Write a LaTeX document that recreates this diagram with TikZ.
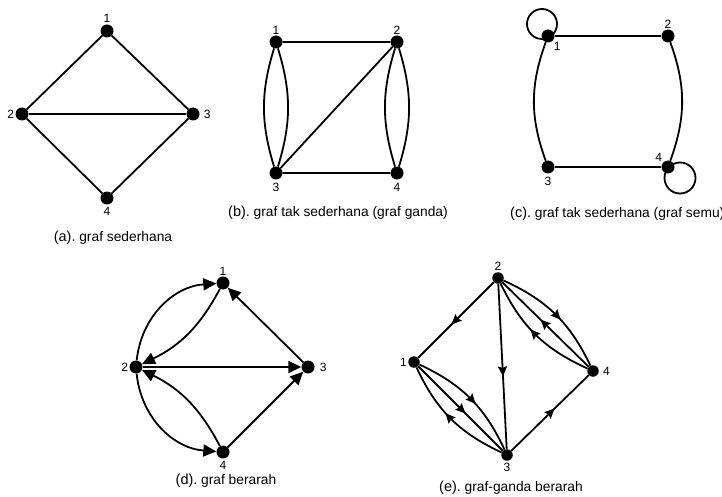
\documentclass[tikz,border=0pt]{standalone}
\usepackage{fontspec}
\setmainfont{Liberation Sans}
\usetikzlibrary{arrows.meta,decorations.markings}

\begin{document}
\begin{tikzpicture}[x=1pt,y=1pt,
  vtx/.style={circle,fill=black,inner sep=0pt,minimum size=13pt},
  svtx/.style={vtx,minimum size=11.5pt},
  lbl/.style={font=\fontsize{12}{13}\selectfont,inner sep=1pt},
  ln/.style={line width=1.8pt},
  arr/.style={ln,-{Triangle[length=13pt,width=12pt]}},
  midarr/.style={ln,postaction={decorate},decoration={markings,
    mark=at position 0.56 with {\arrow{Stealth[length=10pt,width=9pt,inset=1.5pt]}}}},
  capt/.style={inner sep=0pt}]
  \newcommand{\grafcap}[2]{{\fontsize{14.5}{16}\selectfont #1} {\fontsize{13.8}{15}\selectfont #2}}
  \useasboundingbox (0,0) rectangle (722,-497);

  \foreach \n/\x/\y/\p/\d in {1/107/31/above/1,2/22/114/left/0,3/193/114/right/3,4/107/198/below/1}
    \node[vtx,label={[lbl,label distance=\d pt]\p:\n}] (a\n) at (\x,-\y) {};
  \draw[ln] (a1) -- (a2) (a1) -- (a3) (a4) -- (a2) (a4) -- (a3);
  \draw[line width=2.6pt] (a2) -- (a3);
  \node[capt] (capa) at (113,-238) {\grafcap{(a).}{graf sederhana}};

  \foreach \n/\x/\y/\p/\d in {1/276/42/above/0,2/397/42/above/0,3/276/173/below/2,4/397/173/below/2}
    \node[vtx,label={[lbl,label distance=\d pt]\p:\n}] (b\n) at (\x,-\y) {};
  \draw[ln] (b1) -- (b2) (b3) -- (b4) (b3) -- (b2);
  \draw[ln] (b1) to[bend left=17] (b3) (b1) to[bend right=17] (b3);
  \draw[ln] (b2) to[bend left=17] (b4) (b2) to[bend right=17] (b4);
  \node[capt] (capb) at (338,-213) {\grafcap{(b).}{graf tak sederhana (graf ganda)}};

  \foreach \n/\x/\y/\p/\d in {1/548/36/below right/0,2/668/36/above/0,3/548/167/below/2,4/668/167/above left/0}
    \node[vtx,label={[lbl,label distance=\d pt]\p:\n}] (c\n) at (\x,-\y) {};
  \draw[ln] (c1) -- (c2) (c3) -- (c4);
  \draw[ln] (c1) to[bend right=20] (c3) (c2) to[bend left=20] (c4);
  \draw[ln] ([shift={(-6,12)}]c1.center) circle (15pt);
  \draw[ln] ([shift={(12,-11)}]c4.center) circle (15.5pt);
  \node[capt,anchor=west] (capc) at (510,-214) {\grafcap{(c).}{graf tak sederhana (graf semu)}};

  \foreach \n/\x/\y/\p/\d in {1/223/283/above/0,2/136/367/left/0,3/308/367/right/4,4/223/452/below/1}
    \node[vtx,label={[lbl,label distance=\d pt]\p:\n}] (d\n) at (\x,-\y) {};
  \draw[arr] (d2) to[bend left=40] (d1);
  \draw[arr] (d1) to[bend left=18] (d2);
  \draw[arr] (d2) -- (d3);
  \draw[arr] (d3) -- (d1);
  \draw[arr] (d2) to[bend right=40] (d4);
  \draw[arr] (d4) to[bend right=18] (d2);
  \draw[arr] (d4) -- (d3);
  \node[capt] (capd) at (226,-481) {\grafcap{(d).}{graf berarah}};

  \foreach \n/\x/\y/\p/\d in {1/414/362/left/0,2/498/278/above/0,3/507/455/below/1,4/593/371/right/3}
    \node[svtx,label={[lbl,label distance=\d pt]\p:\n}] (e\n) at (\x,-\y) {};
  \draw[midarr] (e2) -- (e1);
  \draw[midarr] (e2) -- (e3);
  \draw[midarr] (e3) -- (e4);
  \draw[midarr] (e2) to[bend left=20] (e4);
  \draw[midarr] (e4) -- (e2);
  \draw[midarr] (e4) to[bend left=20] (e2);
  \draw[midarr] (e1) to[bend left=20] (e3);
  \draw[midarr] (e1) -- (e3);
  \draw[midarr] (e3) to[bend left=20] (e1);
  \node[capt] (cape) at (511,-488) {\grafcap{(e).}{graf-ganda berarah}};
\end{tikzpicture}
\end{document}
